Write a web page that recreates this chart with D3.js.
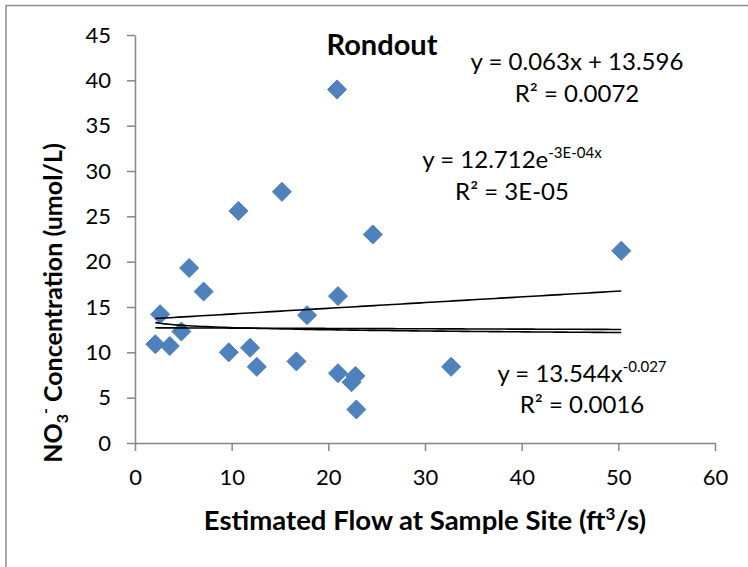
<!DOCTYPE html>
<html>
<head>
<meta charset="utf-8">
<style>
body {
  margin: 0;
  background: #fff;
}
text {
  font-family: Lato, "Open Sans", sans-serif;
  fill: #000;
}
</style>
<script src="https://d3js.org/d3.v7.min.js"></script>
</head>
<body>
<script>
  // Rondout samples: flow (ft3/s) vs NO3- (umol/L)
  const flow = [2.1, 2.6, 3.6, 4.8, 5.6, 7.1, 9.7, 10.7, 11.9, 12.6, 15.2,
                16.7, 17.8, 20.9, 21.0, 21.0, 22.4, 22.8, 22.9, 24.6, 32.7, 50.3];
  const no3  = [10.9, 14.2, 10.7, 12.3, 19.3, 16.7, 10.0, 25.6, 10.5, 8.4, 27.7,
                9.0, 14.1, 39.0, 16.2, 7.7, 6.7, 7.4, 3.7, 23.0, 8.4, 21.2];

  const xTicks = [0, 10, 20, 30, 40, 50, 60];
  const yTicks = [0, 5, 10, 15, 20, 25, 30, 35, 40, 45];

  // trendline coefficients as printed on the chart
  const linearFit = [0.063, 13.596];      // y = a x + b
  const expFit    = [12.712, -3e-4];      // y = a e^(b x)
  const powerFit  = [13.544, -0.027];     // y = a x^b

  const width = 748;
  const height = 567;

  const svg = d3.select("body")
    .append("svg")
    .attr("width", width)
    .attr("height", height);

  // outer chart frame (left and top edges visible)
  svg.append("path")
    .attr("d", "M6,567 L6,5.5 L748,5.5")
    .attr("fill", "none")
    .attr("stroke", "#8e8e8e")
    .attr("stroke-width", 1.5);

  const x = d3.scaleLinear().domain([0, 60]).range([135, 715]);
  const y = d3.scaleLinear().domain([0, 45]).range([443, 35]);

  const axisColor = "#868686";

  // y axis
  const yAxis = svg.append("g")
    .attr("transform", "translate(" + x(0) + ",0)")
    .call(d3.axisLeft(y).tickValues(yTicks).tickSize(8).tickPadding(16).tickSizeOuter(0));
  // x axis
  const xAxis = svg.append("g")
    .attr("transform", "translate(0," + y(0) + ")")
    .call(d3.axisBottom(x).tickValues(xTicks).tickSize(8).tickPadding(18).tickSizeOuter(0));

  [xAxis, yAxis].forEach(function(a) {
    a.select(".domain").attr("stroke", axisColor).attr("stroke-width", 1.5);
    a.selectAll(".tick line").attr("stroke", axisColor).attr("stroke-width", 1.5);
    a.selectAll(".tick text")
      .style("font-family", "Lato, sans-serif")
      .style("font-size", "22px")
      .attr("fill", "#000");
  });

  // markers
  const pts = flow.map(function(f, i) { return {x: f, y: no3[i]}; });
  const r = 9.5;
  svg.append("g")
    .selectAll("path")
    .data(pts)
    .enter()
    .append("path")
      .attr("d", "M0," + (-r) + "L" + r + ",0L0," + r + "L" + (-r) + ",0Z")
      .attr("transform", function(d) { return "translate(" + x(d.x) + "," + y(d.y) + ")"; })
      .attr("fill", "#4F81BD")
      .attr("stroke", "#4A7EBB")
      .attr("stroke-width", 1);

  // trendlines over the data range
  const xmin = d3.min(flow), xmax = d3.max(flow);
  const xs = d3.range(0, 101).map(function(i) { return xmin + (xmax - xmin) * i / 100; });
  const fits = [
    function(v) { return linearFit[0] * v + linearFit[1]; },
    function(v) { return expFit[0] * Math.exp(expFit[1] * v); },
    function(v) { return powerFit[0] * Math.pow(v, powerFit[1]); }
  ];
  const line = d3.line().x(function(d) { return x(d[0]); }).y(function(d) { return y(d[1]); });
  fits.forEach(function(fn) {
    svg.append("path")
      .attr("d", line(xs.map(function(v) { return [v, fn(v)]; })))
      .attr("fill", "none")
      .attr("stroke", "#000")
      .attr("stroke-width", 1.6);
  });

  // title
  svg.append("text")
    .attr("x", 382).attr("y", 55)
    .attr("text-anchor", "middle")
    .style("font-size", "29px")
    .style("font-weight", "bold")
    .text("Rondout");

  // trendline labels
  function eqLabel(cx, y1, y2, main, sup, r2) {
    const t = svg.append("text")
      .attr("x", cx).attr("y", y1)
      .attr("text-anchor", "middle")
      .style("font-size", "24px");
    t.append("tspan").text(main);
    if (sup) {
      t.append("tspan").attr("dy", -10).style("font-size", "15px").text(sup);
    }
    svg.append("text")
      .attr("x", cx).attr("y", y2)
      .attr("text-anchor", "middle")
      .style("font-size", "24px")
      .text(r2);
  }
  eqLabel(577, 70, 102, "y = 0.063x + 13.596", null, "R\u00B2 = 0.0072");
  eqLabel(512, 168, 200, "y = 12.712e", "-3E-04x", "R\u00B2 = 3E-05");
  eqLabel(582, 382, 413, "y = 13.544x", "-0.027", "R\u00B2 = 0.0016");

  // x axis title
  const xt = svg.append("text")
    .attr("x", 425).attr("y", 530)
    .attr("text-anchor", "middle")
    .style("font-size", "27.5px")
    .style("font-weight", "bold");
  xt.append("tspan").text("Estimated Flow at Sample Site (ft");
  xt.append("tspan").attr("dy", -10).style("font-size", "17px").text("3");
  xt.append("tspan").attr("dy", 10).text("/s)");

  // y axis title
  const yt = svg.append("text")
    .attr("transform", "translate(62,303) rotate(-90)")
    .attr("text-anchor", "middle")
    .style("font-size", "25px")
    .style("font-weight", "bold");
  yt.append("tspan").text("NO");
  yt.append("tspan").attr("dy", 6).style("font-size", "16px").text("3");
  yt.append("tspan").attr("dy", -17).style("font-size", "16px").text("-");
  yt.append("tspan").attr("dy", 11).text(" Concentration (umol/L)");
</script>
</body>
</html>
